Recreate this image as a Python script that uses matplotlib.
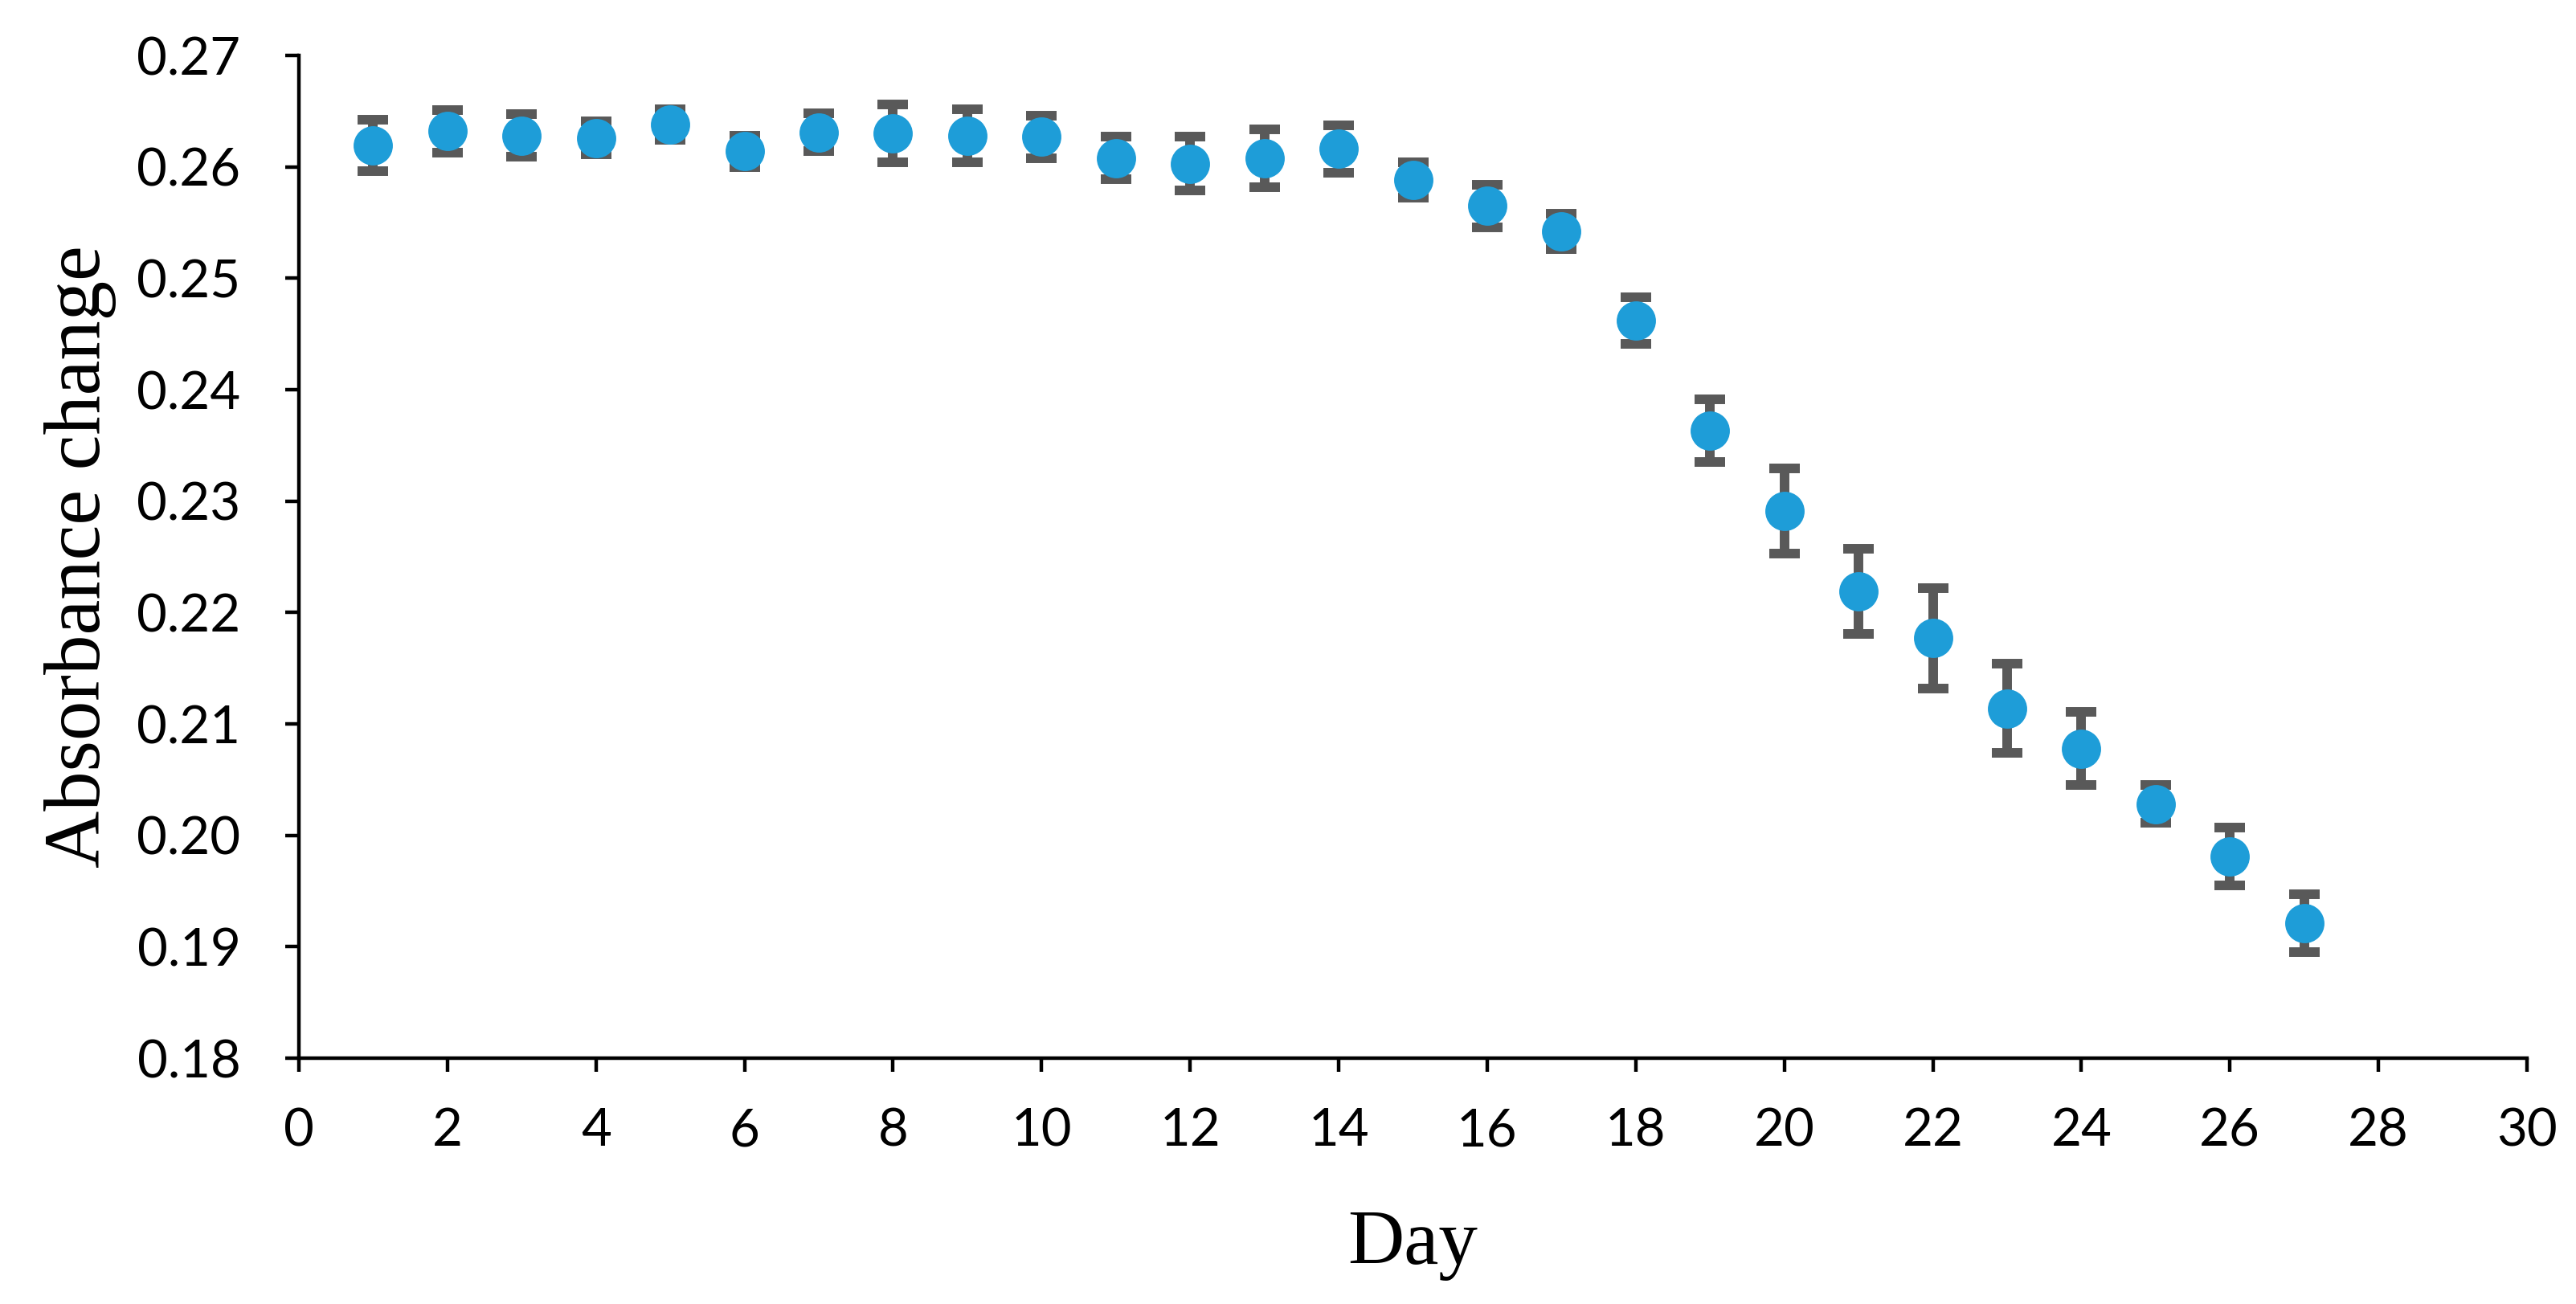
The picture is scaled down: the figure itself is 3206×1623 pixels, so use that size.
import matplotlib
matplotlib.use("Agg")
import matplotlib.pyplot as plt
from matplotlib.ticker import MultipleLocator, FormatStrFormatter

# ---- data ----
days = list(range(1, 28))
absorbance = [0.2619, 0.2632, 0.2628, 0.2626, 0.2638, 0.2614, 0.2631, 0.2630,
              0.2628, 0.2627, 0.2608, 0.2603, 0.2608, 0.2616, 0.2588, 0.2565,
              0.2542, 0.2462, 0.2363, 0.2291, 0.2219, 0.2177, 0.2114, 0.2078,
              0.2028, 0.1981, 0.1921]
errors = [0.0023, 0.0019, 0.0019, 0.0015, 0.0014, 0.0014, 0.0017, 0.0026,
          0.0024, 0.0019, 0.0019, 0.0024, 0.0026, 0.0021, 0.0016, 0.0019,
          0.0016, 0.0021, 0.0028, 0.0038, 0.0038, 0.0045, 0.0040, 0.0033,
          0.0017, 0.0026, 0.0026]
x_label = "Day"
y_label = "Absorbance change"

W, H, DPI = 3206, 1623, 200
fig = plt.figure(figsize=(W / DPI, H / DPI), dpi=DPI)
fig.patch.set_facecolor("white")

L, R, T, B = 372, 3145, 69, 1317
ax = fig.add_axes([L / W, 1 - B / H, (R - L) / W, (B - T) / H])

ax.errorbar(days, absorbance, yerr=errors, fmt="none", ecolor="#595959",
            elinewidth=4.3, capsize=6.8, capthick=4.3, zorder=2)
ax.plot(days, absorbance, linestyle="none", marker="o", markersize=17.6,
        markerfacecolor="#1E9DD8", markeredgecolor="#1E9DD8",
        markeredgewidth=0, zorder=3)

ax.set_xlim(0, 30)
ax.set_ylim(0.18, 0.27)
ax.xaxis.set_major_locator(MultipleLocator(2))
ax.yaxis.set_major_locator(MultipleLocator(0.01))
ax.yaxis.set_major_formatter(FormatStrFormatter("%.2f"))

for s in ["top", "right"]:
    ax.spines[s].set_visible(False)
for s in ["left", "bottom"]:
    ax.spines[s].set_linewidth(1.6)
    ax.spines[s].set_color("black")

ax.tick_params(axis="both", direction="out", length=6.1, width=1.6,
               color="black", labelsize=23.5, labelcolor="black")
ax.tick_params(axis="y", pad=20)
ax.tick_params(axis="x", pad=16)
for lab in ax.get_xticklabels() + ax.get_yticklabels():
    lab.set_fontfamily("Lato")

ax.set_xlabel(x_label, fontsize=35, family="Liberation Serif")
ax.set_ylabel(y_label, fontsize=35.5, family="Liberation Serif")
ax.xaxis.set_label_coords(0.5, (B - 1573) / (B - T))
ax.xaxis.label.set_va("baseline")
ax.yaxis.set_label_coords((124 - L) / (R - L), 0.5)
ax.yaxis.label.set_va("baseline")
ax.yaxis.label.set_rotation_mode("anchor")

fig.savefig("out.png", dpi=DPI, facecolor="white")
